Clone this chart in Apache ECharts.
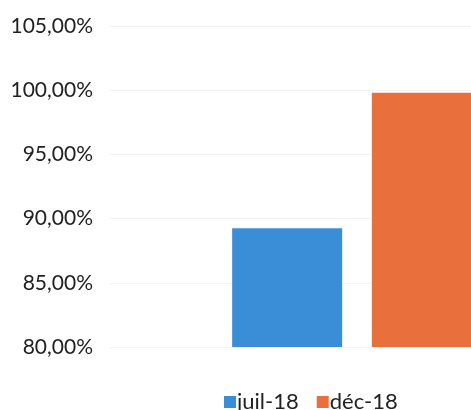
<!DOCTYPE html>
<html><head><meta charset="utf-8">
<script src="https://cdn.jsdelivr.net/npm/echarts@6/dist/echarts.min.js"></script>
<style>html,body{margin:0;padding:0;background:#fff;overflow:hidden;width:471px;height:410px}#c{width:650px;height:410px}</style>
</head><body><div id="c"></div>
<script>
const categories = [''];
const seriesNames = ['juil-18', 'déc-18'];
const juilValues = [0.8925];
const decValues = [0.998];
const yTicks = { min: 0.80, max: 1.05, interval: 0.05 };

const chart = echarts.init(document.getElementById('c'));
const fmt = v => (v * 100).toFixed(2).replace('.', ',') + '%';
chart.setOption({
  backgroundColor: '#fff',
  animation: false,
  grid: { left: 110, right: 46, top: 26, bottom: 63, containLabel: false },
  legend: {
    left: 219, top: 386,
    itemWidth: 12, itemHeight: 12, itemGap: 18,
    icon: 'rect',
    textStyle: { fontFamily: 'Lato, "Open Sans", sans-serif', fontSize: 22, color: '#222', padding: [0, 0, 0, -4] },
    data: seriesNames
  },
  xAxis: {
    type: 'category', data: categories,
    axisLine: { show: false }, axisTick: { show: false }, axisLabel: { show: false }
  },
  yAxis: {
    type: 'value', min: yTicks.min, max: yTicks.max, interval: yTicks.interval,
    axisLine: { show: false }, axisTick: { show: false },
    splitLine: { lineStyle: { color: '#f3f3f3', width: 1 } },
    axisLabel: { formatter: fmt, margin: 17, fontFamily: 'Lato, "Open Sans", sans-serif', fontSize: 21, color: '#222' }
  },
  series: [
    { name: seriesNames[0], type: 'bar', data: juilValues, barWidth: 110, barGap: '27%', itemStyle: { color: '#3a8ed8' } },
    { name: seriesNames[1], type: 'bar', data: decValues, barWidth: 110, itemStyle: { color: '#e9703c' } }
  ]
});
</script></body></html>
